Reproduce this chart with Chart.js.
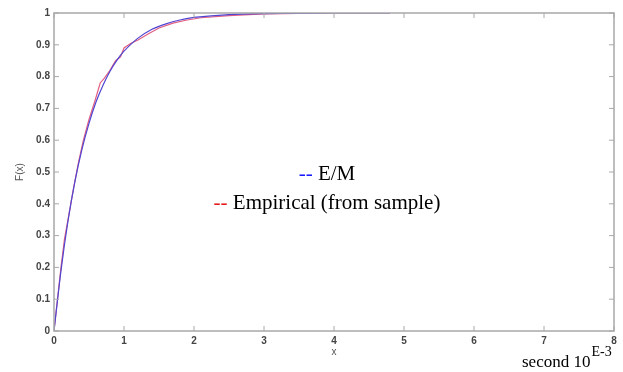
<!DOCTYPE html>
<html>
<head>
<meta charset="utf-8">
<script src="https://cdn.jsdelivr.net/npm/chart.js@4.4.0/dist/chart.umd.min.js"></script>
<style>
  body { margin: 0; background: #fff; }
  canvas { display: block; }
</style>
</head>
<body>
<canvas id="cdfChart" width="623" height="372"></canvas>
<script>
// values (x in 10^-3 s)
const emX = [0, 0.1, 0.2, 0.3, 0.4, 0.5, 0.6, 0.7, 0.8, 0.9, 1.0, 1.2, 1.4, 1.6, 1.8, 2.0, 2.5, 3.0, 3.5, 4.0, 4.8];
const emY = [0, 0.19, 0.346, 0.471, 0.572, 0.653, 0.72, 0.773, 0.817, 0.852, 0.88, 0.921, 0.949, 0.966, 0.978, 0.986, 0.995, 0.998, 0.999, 1.0, 1.0];

const empX = [0, 0.05, 0.1, 0.15, 0.2, 0.28, 0.35, 0.42, 0.5, 0.58, 0.66, 0.72, 0.8, 0.88, 0.95, 1.0, 1.1, 1.2, 1.35, 1.5, 1.7, 1.9, 2.1, 2.5, 3.0, 3.5, 4.0, 4.8];
const empY = [0, 0.1, 0.2, 0.29, 0.35, 0.45, 0.53, 0.6, 0.665, 0.72, 0.78, 0.795, 0.82, 0.85, 0.862, 0.89, 0.905, 0.915, 0.935, 0.953, 0.968, 0.978, 0.985, 0.992, 0.997, 0.999, 1.0, 1.0];

const xTicks = [0, 1, 2, 3, 4, 5, 6, 7, 8];
const yTicks = [0, 0.1, 0.2, 0.3, 0.4, 0.5, 0.6, 0.7, 0.8, 0.9, 1];

const seriesNames = ['E/M', 'Empirical (from sample)'];
const seriesColors = ['rgb(80, 70, 210)', 'rgb(225, 95, 130)'];
const legendColors = ['#1a1aff', '#e61a1a'];

const toPoints = (xs, ys) => xs.map((x, i) => ({ x: x, y: ys[i] }));

// box, inward ticks, legend and unit note
const boxPlugin = {
  id: 'boxPlugin',
  afterDraw(chart) {
    const ctx = chart.ctx;
    const a = chart.chartArea;
    const xs = chart.scales.x;
    const ys = chart.scales.y;
    ctx.save();
    ctx.strokeStyle = '#a8a8a8';
    ctx.lineWidth = 1.5;
    ctx.strokeRect(a.left, a.top, a.right - a.left, a.bottom - a.top);

    ctx.lineWidth = 1;
    ctx.beginPath();
    xTicks.forEach(v => {
      const px = xs.getPixelForValue(v);
      ctx.moveTo(px, a.bottom); ctx.lineTo(px, a.bottom - 5);
      ctx.moveTo(px, a.top); ctx.lineTo(px, a.top + 5);
    });
    yTicks.forEach(v => {
      const py = ys.getPixelForValue(v);
      ctx.moveTo(a.left, py); ctx.lineTo(a.left + 5, py);
      ctx.moveTo(a.right, py); ctx.lineTo(a.right - 5, py);
    });
    ctx.stroke();

    // legend in the middle of the plot
    ctx.font = '21px "Liberation Serif", "Times New Roman", serif';
    ctx.textBaseline = 'middle';
    const cx = 327;
    const rows = [174, 203];
    chart.data.datasets.forEach((ds, i) => {
      const dash = '-- ';
      const full = dash + ds.label;
      const w = ctx.measureText(full).width;
      let x0 = cx - w / 2;
      ctx.fillStyle = legendColors[i];
      ctx.fillText('--', x0, rows[i]);
      x0 += ctx.measureText(dash).width;
      ctx.fillStyle = '#000';
      ctx.fillText(ds.label, x0, rows[i]);
    });

    // unit note under the x axis
    ctx.textBaseline = 'alphabetic';
    ctx.fillStyle = '#000';
    ctx.font = '17px "Liberation Serif", "Times New Roman", serif';
    const base = 'second 10';
    ctx.fillText(base, 522, 367);
    const bw = ctx.measureText(base).width;
    ctx.font = '14px "Liberation Serif", "Times New Roman", serif';
    ctx.fillText('E-3', 522 + bw + 1, 356);
    ctx.restore();
  }
};

new Chart(document.getElementById('cdfChart'), {
  type: 'scatter',
  data: {
    datasets: [
      {
        label: seriesNames[0],
        data: toPoints(emX, emY),
        showLine: true,
        borderColor: seriesColors[0],
        borderWidth: 1.2,
        pointRadius: 0,
        tension: 0.3
      },
      {
        label: seriesNames[1],
        data: toPoints(empX, empY),
        showLine: true,
        borderColor: seriesColors[1],
        borderWidth: 1.2,
        pointRadius: 0,
        tension: 0
      }
    ]
  },
  options: {
    responsive: false,
    animation: false,
    layout: { padding: { left: 14, top: 13, right: 9, bottom: 14 } },
    plugins: {
      legend: { display: false },
      tooltip: { enabled: false }
    },
    scales: {
      x: {
        type: 'linear',
        min: 0,
        max: 8,
        afterBuildTicks: s => { s.ticks = xTicks.map(v => ({ value: v })); },
        afterFit: s => { s.height = 27; },
        grid: { display: false, drawTicks: false, tickLength: 0 },
        border: { display: false },
        ticks: {
          color: '#444',
          padding: 4,
          font: { family: 'Liberation Sans', size: 10, weight: 'bold' }
        },
        title: {
          display: true,
          text: 'x',
          color: '#555',
          padding: 0,
          font: { family: 'Liberation Sans', size: 10 }
        }
      },
      y: {
        type: 'linear',
        min: 0,
        max: 1,
        afterBuildTicks: s => { s.ticks = yTicks.map(v => ({ value: v })); },
        afterFit: s => { s.width = 40; },
        grid: { display: false, drawTicks: false, tickLength: 0 },
        border: { display: false },
        ticks: {
          color: '#444',
          padding: 4,
          font: { family: 'Liberation Sans', size: 10, weight: 'bold' },
          callback: v => (v === 0 || v === 1) ? String(v) : v.toFixed(1)
        },
        title: {
          display: true,
          text: 'F(x)',
          color: '#555',
          padding: 0,
          font: { family: 'Liberation Sans', size: 10 }
        }
      }
    }
  },
  plugins: [boxPlugin]
});
</script>
</body>
</html>
